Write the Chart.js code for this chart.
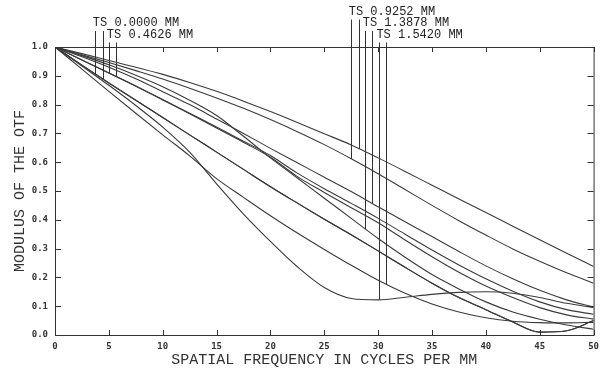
<!DOCTYPE html>
<html>
<head>
<meta charset="utf-8">
<script src="https://cdn.jsdelivr.net/npm/chart.js@4.4.1/dist/chart.umd.min.js"></script>
<style>
  html, body { margin: 0; padding: 0; background: #fff; }
</style>
</head>
<body>
<canvas id="mtfChart" width="605" height="371"></canvas>
<script>
// spatial frequency samples (cycles/mm)
var freq = [0, 2.5, 5, 7.5, 10, 12.5, 15, 17.5, 20, 22.5, 25, 27.5, 30, 32.5, 35, 37.5, 40, 42.5, 45, 47.5, 50];

var fields = ["0.0000", "0.4626", "0.9252", "1.3878", "1.5420"];

// MTF, tangential / sagittal for each field
var mtf0000T = [1, 0.937, 0.875, 0.815, 0.755, 0.695, 0.635, 0.575, 0.515, 0.458, 0.402, 0.348, 0.292, 0.235, 0.18, 0.13, 0.088, 0.045, 0.01, 0.015, 0.05];
var mtf0000S = [1, 0.937, 0.875, 0.815, 0.755, 0.695, 0.635, 0.575, 0.515, 0.458, 0.402, 0.348, 0.292, 0.235, 0.18, 0.13, 0.088, 0.045, 0.01, 0.015, 0.05];
var mtf4626T = [1, 0.955, 0.91, 0.864, 0.816, 0.768, 0.719, 0.669, 0.617, 0.55, 0.495, 0.442, 0.39, 0.33, 0.272, 0.218, 0.17, 0.13, 0.095, 0.07, 0.055];
var mtf4626S = [1, 0.955, 0.91, 0.865, 0.818, 0.77, 0.722, 0.673, 0.623, 0.562, 0.508, 0.457, 0.405, 0.35, 0.295, 0.243, 0.195, 0.152, 0.115, 0.088, 0.072];
var mtf9252T = [1, 0.973, 0.946, 0.918, 0.889, 0.857, 0.823, 0.787, 0.748, 0.706, 0.661, 0.612, 0.56, 0.505, 0.45, 0.397, 0.347, 0.299, 0.256, 0.216, 0.18];
var mtf9252S = [1, 0.977, 0.953, 0.93, 0.905, 0.877, 0.846, 0.812, 0.776, 0.738, 0.699, 0.66, 0.615, 0.568, 0.52, 0.472, 0.425, 0.378, 0.331, 0.284, 0.238];
var mtf13878T = [1, 0.97, 0.938, 0.902, 0.862, 0.815, 0.762, 0.69, 0.615, 0.545, 0.475, 0.405, 0.335, 0.27, 0.21, 0.16, 0.115, 0.08, 0.055, 0.035, 0.02];
var mtf13878S = [1, 0.966, 0.93, 0.89, 0.845, 0.8, 0.75, 0.7, 0.648, 0.598, 0.548, 0.498, 0.445, 0.393, 0.342, 0.29, 0.24, 0.195, 0.155, 0.122, 0.097];
var mtf15420T = [1, 0.934, 0.867, 0.797, 0.722, 0.635, 0.525, 0.42, 0.325, 0.237, 0.165, 0.127, 0.122, 0.131, 0.141, 0.148, 0.15, 0.145, 0.13, 0.11, 0.095];
var mtf15420S = [1, 0.923, 0.846, 0.77, 0.695, 0.622, 0.543, 0.478, 0.414, 0.354, 0.297, 0.242, 0.19, 0.145, 0.108, 0.08, 0.06, 0.048, 0.043, 0.042, 0.044];

// where the field label leaders touch the T and S curves
var markerFreqT = [3.74, 5.04, 27.5, 28.8, 30.07];
var markerFreqS = [4.44, 5.68, 28.2, 29.4, 30.74];

var yTicks = [0, 0.1, 0.2, 0.3, 0.4, 0.5, 0.6, 0.7, 0.8, 0.9, 1.0];
var xTicks = [0, 5, 10, 15, 20, 25, 30, 35, 40, 45, 50];

var curvesT = [mtf0000T, mtf4626T, mtf9252T, mtf13878T, mtf15420T];
var curvesS = [mtf0000S, mtf4626S, mtf9252S, mtf13878S, mtf15420S];

function toPoints(vals) {
    return freq.map(function (f, i) { return {x: f, y: vals[i]}; });
}

function valueAt(vals, f) {
    for (var i = 1; i < freq.length; i++) {
        if (f <= freq[i]) {
            var t = (f - freq[i - 1]) / (freq[i] - freq[i - 1]);
            return vals[i - 1] + t * (vals[i] - vals[i - 1]);
        }
    }
    return vals[vals.length - 1];
}

var datasets = [];
fields.forEach(function (name, i) {
    [["T", curvesT[i]], ["S", curvesS[i]]].forEach(function (c) {
        datasets.push({
            label: "TS " + name + " MM " + c[0],
            data: toPoints(c[1]),
            borderColor: "#3a3a3a",
            borderWidth: 1.1,
            pointRadius: 0,
            cubicInterpolationMode: "monotone",
            fill: false
        });
    });
});

// frame with inward ticks, plus field labels with leader lines
var zemaxFrame = {
    id: "zemaxFrame",
    afterDatasetsDraw: function (chart) {
        var ctx = chart.ctx, a = chart.chartArea;
        var x = chart.scales.x, y = chart.scales.y;
        ctx.save();
        ctx.strokeStyle = "#333";
        ctx.lineWidth = 1;
        ctx.strokeRect(a.left + 0.5, a.top + 0.5, a.right - a.left, a.bottom - a.top);

        ctx.beginPath();
        xTicks.forEach(function (v) {
            var px = Math.round(x.getPixelForValue(v)) + 0.5;
            ctx.moveTo(px, a.bottom); ctx.lineTo(px, a.bottom - 5);
            ctx.moveTo(px, a.top); ctx.lineTo(px, a.top + 5);
        });
        yTicks.forEach(function (v) {
            var py = Math.round(y.getPixelForValue(v)) + 0.5;
            ctx.moveTo(a.left, py); ctx.lineTo(a.left + 6, py);
            ctx.moveTo(a.right, py); ctx.lineTo(a.right - 6, py);
        });
        ctx.stroke();

        // label rows: 0.0000 row 2, 0.4626 row 3, 0.9252 row 1, 1.3878 row 2, 1.5420 row 3
        var rowOf = [1, 2, 0, 1, 2];
        var rowY = [11.5, 23, 34.5];
        ctx.font = "12px 'Liberation Mono', monospace";
        ctx.fillStyle = "#222";
        ctx.textBaseline = "middle";
        ctx.textAlign = "left";
        ctx.beginPath();
        fields.forEach(function (name, i) {
            var ry = rowY[rowOf[i]];
            var xT = x.getPixelForValue(markerFreqT[i]);
            var xS = x.getPixelForValue(markerFreqS[i]);
            ctx.fillText("TS " + name + " MM", xT - 2.5, ry);
            var yT = y.getPixelForValue(valueAt(curvesT[i], markerFreqT[i]));
            var yS = y.getPixelForValue(valueAt(curvesS[i], markerFreqS[i]));
            var x1 = Math.round(xT) + 0.5, x2 = Math.round(xS) + 0.5;
            ctx.moveTo(x1, ry + 8); ctx.lineTo(x1, yT);
            ctx.moveTo(x2, ry + 8); ctx.lineTo(x2, yS);
        });
        ctx.stroke();
        ctx.restore();
    }
};

var mtfChart = new Chart(document.getElementById("mtfChart").getContext("2d"), {
    type: "line",
    data: {datasets: datasets},
    options: {
        responsive: false,
        animation: false,
        layout: {padding: {left: 0, right: 9, top: 47, bottom: 0}},
        plugins: {legend: {display: false}, tooltip: {enabled: false}},
        scales: {
            x: {
                type: "linear",
                min: 0, max: 50,
                grid: {display: false, drawTicks: false},
                border: {display: false},
                afterBuildTicks: function (s) { s.ticks = xTicks.map(function (v) { return {value: v}; }); },
                afterFit: function (s) { s.height = 36; },
                ticks: {
                    color: "#333",
                    padding: 6,
                    maxRotation: 0,
                    font: {family: "'DejaVu Sans Mono'", size: 9, weight: "bold"},
                    callback: function (v) { return String(v); }
                },
                title: {
                    display: true,
                    text: "SPATIAL FREQUENCY IN CYCLES PER MM",
                    color: "#333",
                    padding: {top: 0, bottom: 2},
                    font: {family: "'Liberation Mono'", size: 15}
                }
            },
            y: {
                min: 0, max: 1,
                grid: {display: false, drawTicks: false},
                border: {display: false},
                afterBuildTicks: function (s) { s.ticks = yTicks.map(function (v) { return {value: v}; }); },
                afterFit: function (s) { s.width = 55; },
                ticks: {
                    color: "#333",
                    padding: 7,
                    font: {family: "'DejaVu Sans Mono'", size: 9, weight: "bold"},
                    callback: function (v) { return v.toFixed(1); }
                },
                title: {
                    display: true,
                    text: "MODULUS OF THE OTF",
                    color: "#333",
                    padding: {top: 11, bottom: 0},
                    font: {family: "'Liberation Mono'", size: 15}
                }
            }
        }
    },
    plugins: [zemaxFrame]
});
</script>
</body>
</html>
